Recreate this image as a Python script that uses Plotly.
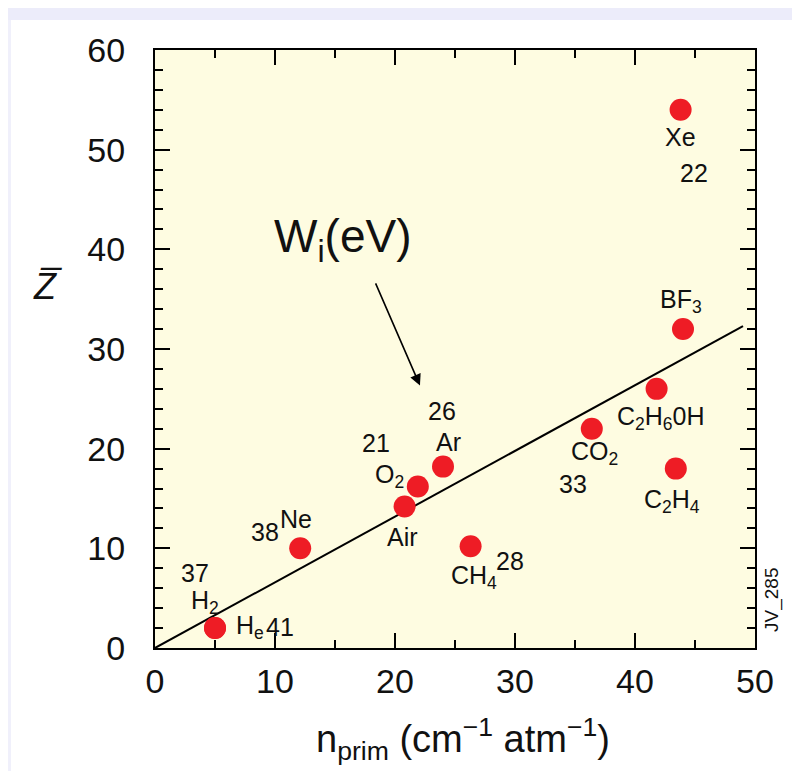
import plotly.graph_objects as go

# ---- data ----
gases = ["H2", "He", "Ne", "Air", "O2", "Ar", "CH4", "CO2", "C2H6OH", "BF3", "C2H4", "Xe"]
n_prim = [5.0, 5.0, 12.1, 20.8, 21.9, 24.0, 26.3, 36.4, 41.8, 44.0, 43.4, 43.8]
z_bar = [2.0, 2.0, 10.0, 14.2, 16.2, 18.2, 10.2, 22.0, 26.0, 32.0, 18.0, 54.0]
w_i = [37, 41, 38, None, 21, 26, 28, 33, None, None, None, 22]
names_html = ["H<sub>2</sub>", "H<sub>e</sub>", "Ne", "Air", "O<sub>2</sub>", "Ar",
              "CH<sub>4</sub>", "CO<sub>2</sub>", "C<sub>2</sub>H<sub>6</sub>0H",
              "BF<sub>3</sub>", "C<sub>2</sub>H<sub>4</sub>", "Xe"]

fit_x = [0, 49.0]
fit_y = [0, 32.3]

x_ticks = [0, 10, 20, 30, 40, 50]
y_ticks = [0, 10, 20, 30, 40, 50, 60]

# label offsets in pixels (style, not data)
name_shift = {"H2": (-10, 26), "He": (35, 1), "Ne": (-4, 29), "Air": (-2, -31),
              "O2": (-28, 11), "Ar": (5, 25), "CH4": (3, -31), "CO2": (3, -24),
              "C2H6OH": (4, -29), "BF3": (-2, 28), "C2H4": (-4, -32), "Xe": (0, -27)}
w_shift = {"H2": (-20, 55), "He": (65, 1), "Ne": (-35, 16), "O2": (-42, 44),
           "Ar": (-1, 56), "CH4": (39, -15), "CO2": (-19, -55), "Xe": (13, -63)}

FONT = "Liberation Sans, Arial, Helvetica, sans-serif"

fig = go.Figure()
fig.add_trace(go.Scatter(x=fit_x, y=fit_y, mode="lines",
                         line=dict(color="black", width=2), showlegend=False,
                         hoverinfo="skip"))
fig.add_trace(go.Scatter(x=n_prim, y=z_bar, mode="markers",
                         marker=dict(color="#EE1C25", size=22, line=dict(width=0)),
                         text=gases, showlegend=False))

ann = []
for g, x, y, nm, w in zip(gases, n_prim, z_bar, names_html, w_i):
    dx, dy = name_shift[g]
    ann.append(dict(x=x, y=y, xref="x", yref="y", text=nm, showarrow=False,
                    xanchor="center", yanchor="middle",
                    xshift=dx, yshift=dy, font=dict(size=25, color="#111", family=FONT)))
    if w is not None:
        dx, dy = w_shift[g]
        ann.append(dict(x=x, y=y, xref="x", yref="y", text=str(w), showarrow=False,
                        xanchor="center", yanchor="middle",
                        xshift=dx, yshift=dy, font=dict(size=25, color="#111", family=FONT)))

# Wi(eV) label and arrow
ann.append(dict(x=15.6, y=41.0, xref="x", yref="y", text="W<sub>i</sub>(eV)",
                showarrow=False, xanchor="center", yanchor="middle",
                font=dict(size=46, color="#111", family=FONT)))
ann.append(dict(x=22.08, y=26.33, xref="x", yref="y", ax=18.33, ay=36.74,
                axref="x", ayref="y", text="", showarrow=True, arrowhead=2,
                arrowsize=1.4, arrowwidth=1.6, arrowcolor="black"))

# axis titles
ann.append(dict(x=0.5125, y=-0.152, xref="paper", yref="paper",
                text="n<sub>prim</sub> (cm<sup>\u22121</sup> atm<sup>\u22121</sup>)",
                showarrow=False, xanchor="center", yanchor="middle",
                font=dict(size=38, color="#111", family=FONT)))
ann.append(dict(x=-0.18, y=0.604, xref="paper", yref="paper",
                text="<i>Z\u0305</i>", showarrow=False, xanchor="center", yanchor="middle",
                font=dict(size=36, color="#111", family=FONT)))
# side tag
ann.append(dict(x=1.028, y=0.08, xref="paper", yref="paper", text="JV_285",
                textangle=-90, showarrow=False, xanchor="center", yanchor="middle",
                font=dict(size=19, color="#111", family=FONT)))

shapes = [
    dict(type="rect", xref="paper", yref="paper", x0=-0.3, x1=1.2,
         y0=(640 - 12) / 598, y1=640 / 598 + 0.05, line=dict(width=0),
         fillcolor="#ECECFA", layer="below"),
    dict(type="rect", xref="paper", yref="paper", x0=-0.3, x1=(3 - 147) / 600,
         y0=-0.3, y1=(640 - 12) / 598, line=dict(width=0),
         fillcolor="#F0F0FB", layer="below"),
]

fig.update_layout(
    width=800, height=771,
    margin=dict(l=147, r=53, t=42, b=131),
    paper_bgcolor="white", plot_bgcolor="#FEFCE1",
    font=dict(family=FONT, color="#111"),
    annotations=ann, shapes=shapes,
)
axis_common = dict(showgrid=False, zeroline=False, showline=True, linecolor="black",
                   linewidth=2, mirror="allticks", ticks="inside", ticklen=15,
                   tickwidth=2, tickcolor="black",
                   tickfont=dict(size=34, family=FONT, color="#111"))
fig.update_xaxes(range=[0, 50], tickvals=x_ticks, ticklabelstandoff=2,
                 minor=dict(dtick=5, ticks="inside", ticklen=8, tickwidth=2, tickcolor="black"),
                 **axis_common)
fig.update_yaxes(range=[0, 60], tickvals=y_ticks, ticklabelstandoff=21,
                 minor=dict(dtick=2, ticks="inside", ticklen=8, tickwidth=2, tickcolor="black"),
                 **axis_common)

fig.write_html("out.html")
